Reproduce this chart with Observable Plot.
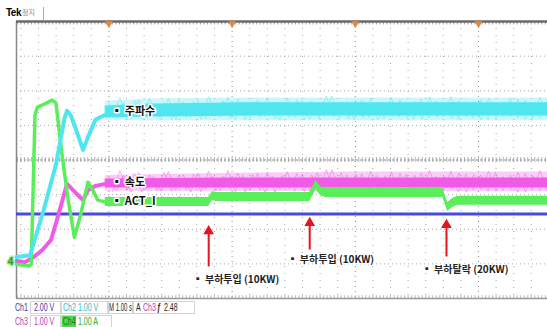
<!DOCTYPE html>
<html><head><meta charset="utf-8">
<script src="https://cdn.jsdelivr.net/npm/d3@7"></script>
<script src="https://cdn.jsdelivr.net/npm/@observablehq/plot@0.6"></script>
<style>
body{margin:0;background:#fff;}
#wrap{position:relative;width:547px;height:327px;overflow:hidden;font-family:"Liberation Sans",sans-serif;}
#chart{position:absolute;left:0;top:20px;}
.t{position:absolute;font-size:9px;line-height:11px;white-space:nowrap;}
#footer .t{font-size:10px;transform:scaleX(0.7);transform-origin:0 0;}
.box{position:absolute;border:1px solid #d4d4d4;}
</style></head>
<body><div id="wrap">
<div class="t" style="left:6px;top:7px;font-size:10px;font-weight:bold;letter-spacing:-0.5px;">Tek</div>
<div class="t" style="left:22px;top:7px;font-family:'Noto Sans CJK KR';font-size:7px;color:#888;">정지</div>
<div style="position:absolute;left:43px;top:7px;width:1px;height:13px;background:#aaa;"></div>
<div id="chart"></div>
<div id="footer"></div>
</div>
<script>
// ---- data (time in s, value in divisions) ----
const cyanT = [-0.75, -0.64, -0.53, -0.43, -0.36, -0.34, -0.31, -0.26, -0.21, -0.17, -0.11, -0.05, 0.01];
const cyanV = [-2.80, -2.75, -1.45, -0.14, 1.21, 1.42, 1.30, 0.81, 0.29, 0.66, 1.16, 1.27, 1.36];
const cyanBandT = [-0.03, 0.34, 1.15, 1.96, 2.77, 3.56];
const cyanCoreHi = [1.56, 1.62, 1.65, 1.65, 1.65, 1.65];
const cyanCoreLo = [1.21, 1.24, 1.27, 1.27, 1.27, 1.27];
const cyanOuterHi = [1.70, 1.76, 1.79, 1.79, 1.79, 1.79];
const cyanOuterLo = [1.15, 1.13, 1.13, 1.13, 1.13, 1.13];
const cyanNoise = [1.62,1.22,1.66,1.18,1.75,1.25,1.62,1.20,1.78,1.16,1.68,1.24,1.72,1.19,1.64,1.23,1.82,1.17,1.69,1.21,1.74,1.26,1.66,1.15,1.79,1.22,1.71,1.18,1.67,1.25,1.85,1.20,1.70,1.16,1.73,1.23,1.65,1.19,1.80,1.24,1.68,1.17,1.76,1.21,1.71,1.26,1.83,1.18,1.69,1.22,1.74,1.16,1.66,1.25,1.78,1.20,1.72,1.19,1.81,1.23];

const magT = [-0.75, -0.68, -0.61, -0.54, -0.47, -0.41, -0.34, -0.27, -0.21, -0.17, -0.11, -0.03];
const magV = [-2.92, -2.95, -2.80, -2.60, -2.31, -1.59, -0.69, -0.95, -1.16, -0.87, -0.75, -0.69];
const magBandT = [-0.03, 1.0, 2.0, 3.56];
const magCoreHi = [-0.55, -0.52, -0.52, -0.52];
const magCoreLo = [-0.81, -0.81, -0.81, -0.81];
const magOuterHi = [-0.45, -0.38, -0.35, -0.35];
const magOuterLo = [-0.90, -0.92, -0.92, -0.92];
const magNoise = [-0.50,-0.88,-0.45,-0.92,-0.36,-0.85,-0.48,-0.90,-0.33,-0.86,-0.42,-0.93,-0.38,-0.84,-0.47,-0.89,-0.30,-0.91,-0.44,-0.87,-0.39,-0.94,-0.46,-0.85,-0.34,-0.90,-0.41,-0.88,-0.37,-0.92,-0.28,-0.86,-0.43,-0.90,-0.40,-0.84,-0.45,-0.93,-0.35,-0.87,-0.42,-0.91,-0.38,-0.85,-0.47,-0.89,-0.32,-0.92,-0.41,-0.86,-0.44,-0.90,-0.36,-0.88,-0.43,-0.93,-0.39,-0.85,-0.31,-0.91];

const grnT = [-0.75, -0.65, -0.63, -0.60, -0.58, -0.52, -0.46, -0.43, -0.38, -0.33, -0.28, -0.23, -0.17, -0.13, -0.09, -0.03];
const grnV = [-3.01, -3.06, -3.01, 1.30, 1.53, 1.62, 1.73, 1.65, 0.14, -1.16, -2.23, -1.59, -0.64, -0.87, -1.16, -1.21];
const grnBandT = [-0.03, 0.81, 0.84, 0.87, 1.63, 1.66, 1.68, 1.72, 1.76, 2.71, 2.75, 2.79, 2.83, 3.56];
const grnBandV = [-1.21, -1.21, -1.04, -1.07, -1.07, -0.87, -0.72, -0.90, -0.95, -0.95, -1.36, -1.24, -1.18, -1.18];
const grnHalf = 0.13;

const blueLevel = -1.56;

const traceLabels = ["▪ 주파수", "▪ 속도", "▪ ACT_I"];
const traceLabelT = [0.02, 0.02, 0.02];
const traceLabelV = [1.39, -0.64, -1.21];

const eventT = [0.81, 1.63, 2.74];
const eventTip = [-1.97, -1.73, -1.79];
const eventBase = [-3.09, -2.60, -2.80];
const eventLabels = ["▪ 부하투입 (10KW)", "▪ 부하투입 (10KW)", "▪ 부하탈락 (20KW)"];
const eventLabelT = [0.68, 1.45, 2.54];
const eventLabelV = [-3.47, -2.89, -3.18];

const majorX = [0, 1, 2, 3];
const gridY = [-3, -2, -1, 1, 2, 3];
const minorX = d3.range(-5, 25).filter(k => k % 7 !== 0).map(k => k / 7);
const rulerX = d3.range(-26, 125).map(k => k / 35);

const chNames = ["Ch1", "Ch2", "Ch3", "Ch4"];
const chScales = ["2.00 V", "1.00 V", "1.00 V", "1.00 A"];
const timebase = "M 1.00 s";
const trigger = ["A", "Ch3", "ƒ", "2.48"];

// ---- build ----
const zip = (xs, ys) => xs.map((x, i) => ({x, y: ys[i]}));
const band = (xs, lo, hi) => xs.map((x, i) => ({x, lo: lo[i], hi: hi[i]}));
const noiseT = (arr, t0, t1) => arr.map((v, i) => ({x: t0 + (t1 - t0) * i / (arr.length - 1), y: v}));

const C = {cyan: "#4fe6f0", mag: "#f05ae6", grn: "#5aee5a", blue: "#4848e4", red: "#e4161c"};

const chart = Plot.plot({
  width: 547, height: 280,
  marginTop: 1, marginBottom: 2, marginLeft: 16, marginRight: 0,
  x: {domain: [-0.75, 3.56], axis: null},
  y: {domain: [-4, 4], axis: null},
  style: {background: "transparent", overflow: "visible"},
  marks: [
    // grid
    Plot.ruleX(minorX, {stroke: "#a8a8a8", strokeDasharray: "1,6", strokeWidth: 1}),
    Plot.ruleY(gridY, {stroke: "#a8a8a8", strokeDasharray: "1,3", strokeWidth: 1}),
    Plot.ruleX(majorX, {stroke: "#909090", strokeDasharray: "1,4", strokeWidth: 1}),
    Plot.ruleY([0], {stroke: "#888", strokeDasharray: "2,2", strokeWidth: 1}),
    Plot.ruleX(rulerX, {y1: -0.07, y2: 0.07, stroke: "#999", strokeWidth: 0.8}),
    Plot.ruleX(rulerX, {y1: -4, y2: -3.92, stroke: "#aaa", strokeWidth: 0.8}),
    Plot.ruleX(rulerX, {y1: 4, y2: 3.9, stroke: "#888", strokeWidth: 0.8}),
    Plot.ruleY([-4], {stroke: "#999", strokeWidth: 1.5}),
    Plot.ruleX([-0.75], {stroke: "#888", strokeWidth: 1.5}),
    // blue trace
    Plot.ruleY([blueLevel], {stroke: C.blue, strokeWidth: 3}),
    // magenta
    Plot.areaY(band(magBandT, magOuterLo, magOuterHi), {x: "x", y1: "lo", y2: "hi", fill: C.mag, fillOpacity: 0.3}),
    Plot.line(noiseT(magNoise, 0.0, 3.56), {x: "x", y: "y", stroke: C.mag, strokeWidth: 0.6, strokeOpacity: 0.8}),
    Plot.line(noiseT(magNoise.slice().reverse(), 0.03, 3.56), {x: "x", y: "y", stroke: C.mag, strokeWidth: 0.6, strokeOpacity: 0.8}),
    Plot.areaY(band(magBandT, magCoreLo, magCoreHi), {x: "x", y1: "lo", y2: "hi", fill: C.mag}),
    Plot.line(zip(magT, magV), {x: "x", y: "y", stroke: C.mag, strokeWidth: 4}),
    // green
    Plot.areaY(grnBandT.map((x, i) => ({x, lo: grnBandV[i] - grnHalf, hi: grnBandV[i] + grnHalf})), {x: "x", y1: "lo", y2: "hi", fill: C.grn}),
    Plot.line(zip(grnT, grnV), {x: "x", y: "y", stroke: C.grn, strokeWidth: 3.5}),
    // cyan
    Plot.areaY(band(cyanBandT, cyanOuterLo, cyanOuterHi), {x: "x", y1: "lo", y2: "hi", fill: C.cyan, fillOpacity: 0.3}),
    Plot.line(noiseT(cyanNoise, 0.0, 3.56), {x: "x", y: "y", stroke: C.cyan, strokeWidth: 0.6, strokeOpacity: 0.8}),
    Plot.line(noiseT(cyanNoise.slice().reverse(), 0.03, 3.56), {x: "x", y: "y", stroke: C.cyan, strokeWidth: 0.6, strokeOpacity: 0.8}),
    Plot.areaY(band(cyanBandT, cyanCoreLo, cyanCoreHi), {x: "x", y1: "lo", y2: "hi", fill: C.cyan}),
    Plot.line(zip(cyanT, cyanV), {x: "x", y: "y", stroke: C.cyan, strokeWidth: 4}),
    // top border + trigger markers
    Plot.ruleY([4], {stroke: "#6a6a6a", strokeWidth: 2.5}),
    Plot.dot(majorX, {x: d => d, y: 4, symbol: "triangle", rotate: 180, r: 3, fill: "#e8883a", stroke: "none", dy: 2}),
    // ground marker
    Plot.text(["4"], {x: -0.75, y: -2.95, dx: -6, fill: "#2a9a2a", fontWeight: "bold", fontSize: 10, stroke: "#9ef09e", strokeWidth: 3}),
    // trace labels
    Plot.text(traceLabels, {x: (d, i) => traceLabelT[i], y: (d, i) => traceLabelV[i], text: d => d, textAnchor: "start",
      fontFamily: "Noto Sans CJK KR", fontWeight: 700, fontSize: 11, fill: "#111", stroke: "white", strokeWidth: 3}),
    // event arrows
    Plot.ruleX(eventT, {x: d => d, y1: (d, i) => eventBase[i], y2: (d, i) => eventTip[i] - 0.15, stroke: C.red, strokeWidth: 2}),
    Plot.dot(eventT, {x: d => d, y: (d, i) => eventTip[i], symbol: "triangle", r: 4, fill: C.red, stroke: "none", dy: 3}),
    Plot.text(eventLabels, {x: (d, i) => eventLabelT[i], y: (d, i) => eventLabelV[i], text: d => d, textAnchor: "start",
      fontFamily: "Noto Sans CJK KR", fontWeight: 700, fontSize: 10, fill: "#222", stroke: "white", strokeWidth: 2})
  ]
});
document.getElementById("chart").append(chart);

// footer
const f = document.getElementById("footer");
const add = (txt, style) => { const d = document.createElement("div"); d.className = "t"; d.textContent = txt; d.style.cssText = style; f.append(d); return d; };
const box = (l, t, w, h) => { const d = document.createElement("div"); d.className = "box"; d.style.cssText = `left:${l}px;top:${t}px;width:${w}px;height:${h}px;`; f.append(d); };
box(30, 301, 30, 11); box(60, 301, 47, 11); box(107, 301, 25, 11); box(132, 301, 61, 11);
box(30, 315, 30, 11); box(60, 315, 50, 11);
add(chNames[0], "left:15px;top:302px;color:#3838a0;");
add(chScales[0], "left:34px;top:302px;color:#3838a0;");
add(chNames[1], "left:63px;top:302px;color:#2fb8c8;");
add(chScales[1], "left:78px;top:302px;color:#2fb8c8;");
add(timebase, "left:109px;top:302px;color:#222;transform:scaleX(0.6);");
add(trigger[0], "left:136px;top:302px;color:#222;");
add(trigger[1], "left:143px;top:302px;color:#b43cb0;");
add(trigger[2], "left:157px;top:302px;color:#222;font-weight:bold;");
add(trigger[3], "left:164px;top:302px;color:#222;");
add(chNames[2], "left:15px;top:316px;color:#b43cb0;");
add(chScales[2], "left:34px;top:316px;color:#b43cb0;");
add(chNames[3], "left:62px;top:316px;color:#1a7a1a;background:#4cd84c;padding:0 1px;");
add(chScales[3], "left:78px;top:316px;color:#2aa82a;");
</script>
</body></html>
